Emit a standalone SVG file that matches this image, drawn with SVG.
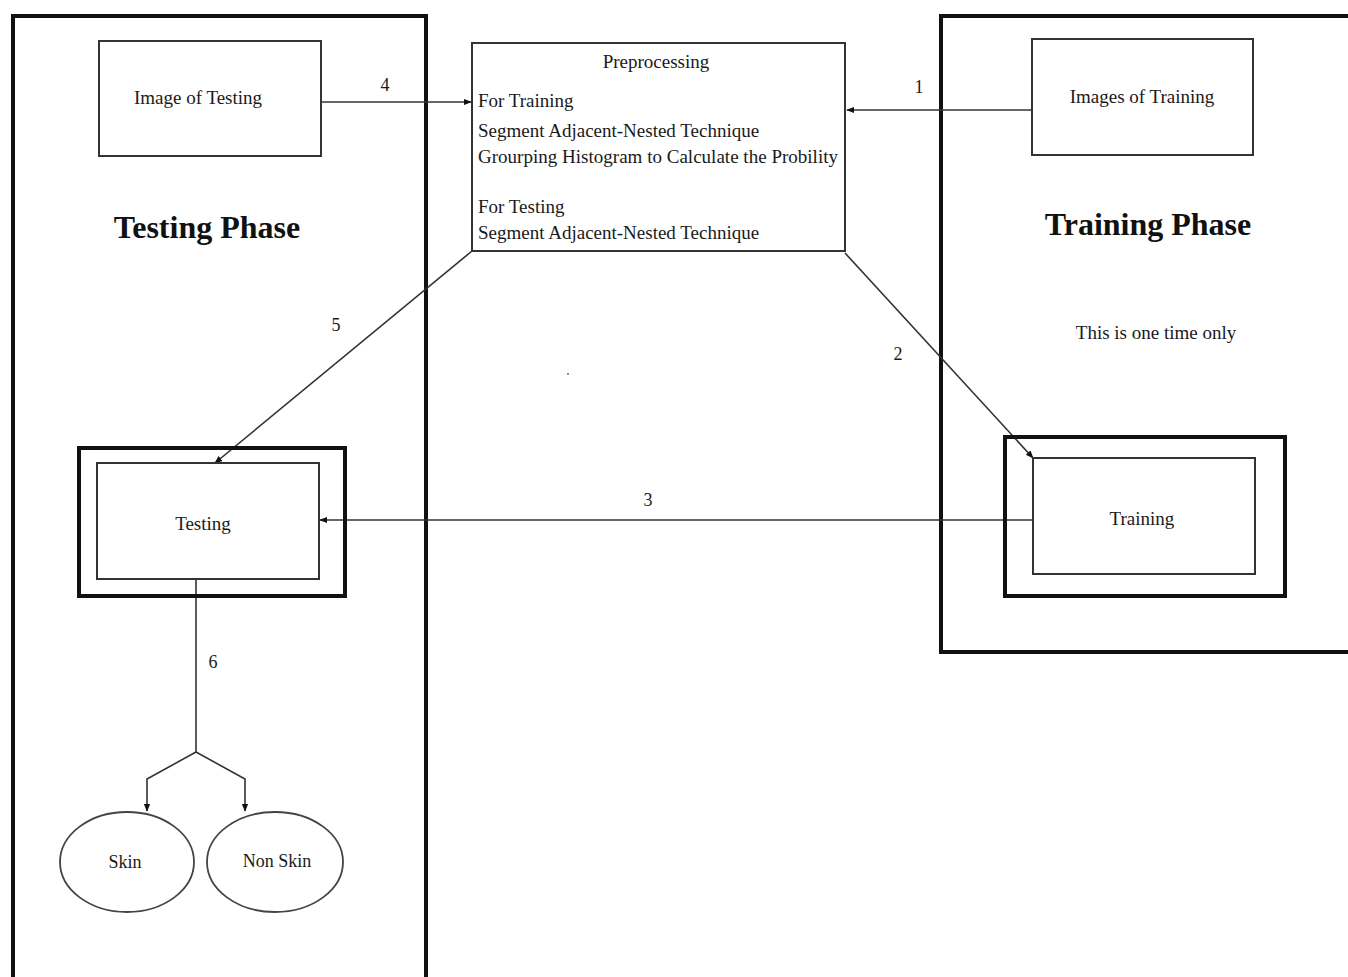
<svg xmlns="http://www.w3.org/2000/svg" width="1348" height="977" viewBox="0 0 1348 977">
<style>
.t{font-family:"Liberation Serif","Times New Roman",serif;fill:#1a1a1a;font-size:19px}
.c{text-anchor:middle}
.h{font-weight:bold;font-size:32px;fill:#111}
.n{font-size:18px}
.outer{fill:none;stroke:#111;stroke-width:4}
.box{fill:#fff;stroke:#333;stroke-width:2}
.con{fill:none;stroke:#333;stroke-width:1.6}
</style>
<defs>
<marker id="a" viewBox="0 0 10 10" refX="9" refY="5" markerWidth="5" markerHeight="5" orient="auto">
<path d="M0,1 L10,5 L0,9 z" fill="#111"/>
</marker>
</defs>
<rect width="1348" height="977" fill="#fff"/>
<g id="testing-phase">
<rect class="outer" x="13" y="16" width="413" height="975"/>
<text class="t h c" x="207" y="238">Testing Phase</text>
</g>
<g id="training-phase">
<rect class="outer" x="941" y="16" width="420" height="636"/>
<text class="t h c" x="1148" y="235">Training Phase</text>
<text class="t c" x="1156" y="339">This is one time only</text>
</g>
<g id="connectors">
<line class="con" x1="1032" y1="110" x2="847" y2="110" marker-end="url(#a)"/>
<line class="con" x1="321" y1="102" x2="471" y2="102" marker-end="url(#a)"/>
<line class="con" x1="845" y1="253" x2="1033" y2="458" marker-end="url(#a)"/>
<line class="con" x1="1033" y1="520" x2="320" y2="520" marker-end="url(#a)"/>
<line class="con" x1="472" y1="251" x2="215" y2="463" marker-end="url(#a)"/>
<polyline class="con" points="196,579 196,752"/>
<polyline class="con" points="196,752 147,779 147,811" marker-end="url(#a)"/>
<polyline class="con" points="196,752 245,779 245,811" marker-end="url(#a)"/>
<text class="t n c" x="919" y="93">1</text>
<text class="t n c" x="898" y="360">2</text>
<text class="t n c" x="648" y="506">3</text>
<text class="t n c" x="385" y="91">4</text>
<text class="t n c" x="336" y="331">5</text>
<text class="t n c" x="213" y="668">6</text>
</g>
<g id="image-of-testing">
<rect class="box" x="99" y="41" width="222" height="115"/>
<text class="t c" x="198" y="104">Image of Testing</text>
</g>
<g id="images-of-training">
<rect class="box" x="1032" y="39" width="221" height="116"/>
<text class="t c" x="1142" y="103">Images of  Training</text>
</g>
<g id="preprocessing">
<rect class="box" x="472" y="43" width="373" height="208"/>
<text class="t c" x="656" y="68">Preprocessing</text>
<text class="t" x="478" y="107">For Training</text>
<text class="t" x="478" y="137">Segment Adjacent-Nested Technique</text>
<text class="t" x="478" y="163" textLength="360">Grourping Histogram to Calculate the Probility</text>
<text class="t" x="478" y="213">For Testing</text>
<text class="t" x="478" y="239">Segment Adjacent-Nested Technique</text>
</g>
<g id="testing">
<rect class="outer" x="79" y="448" width="266" height="148"/>
<rect class="box" x="97" y="463" width="222" height="116"/>
<text class="t c" x="203" y="530">Testing</text>
</g>
<g id="training">
<rect class="outer" x="1005" y="437" width="280" height="159"/>
<rect class="box" x="1033" y="458" width="222" height="116"/>
<text class="t c" x="1142" y="525">Training</text>
</g>
<g id="skin">
<ellipse cx="127" cy="862" rx="67" ry="50" fill="#fff" stroke="#444" stroke-width="1.8"/>
<text class="t n c" x="125" y="868">Skin</text>
</g>
<g id="non-skin">
<ellipse cx="275" cy="862" rx="68" ry="50" fill="#fff" stroke="#444" stroke-width="1.8"/>
<text class="t n c" x="277" y="867">Non Skin</text>
</g>
<circle cx="568" cy="374" r="1" fill="#666"/>
</svg>
